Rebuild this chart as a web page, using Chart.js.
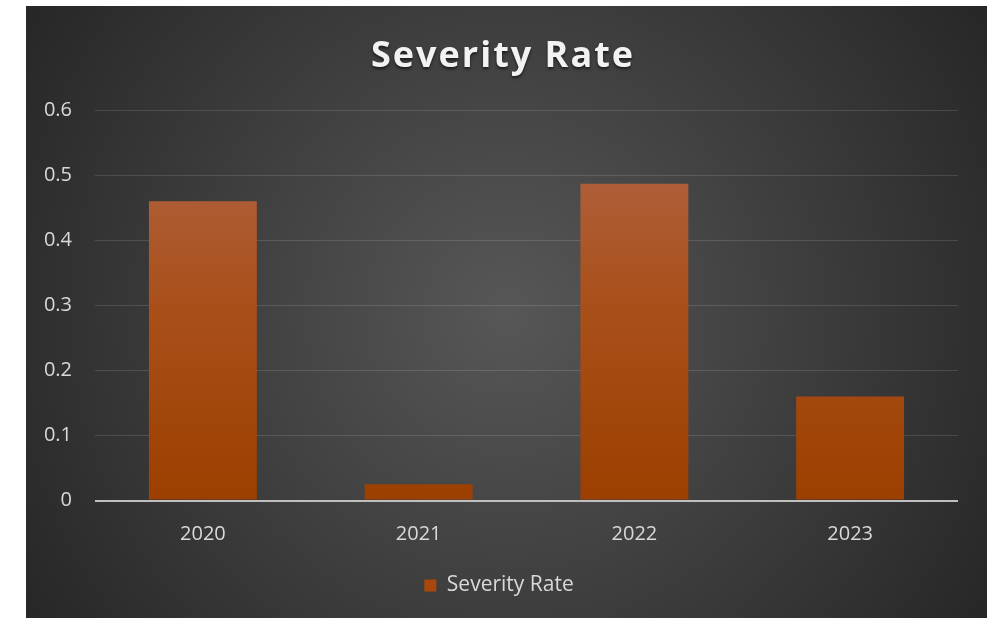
<!DOCTYPE html>
<html>
<head>
<meta charset="utf-8">
<script src="https://cdn.jsdelivr.net/npm/chart.js@4"></script>
<style>
  body { margin: 0; background: #fff; }
  #wrap { position: absolute; left: 26px; top: 6px; width: 961px; height: 612px; }
</style>
</head>
<body>
<div id="wrap"><canvas id="severity"></canvas></div>
<script>
const years = ["2020", "2021", "2022", "2023"];
const severityRate = [0.46, 0.025, 0.487, 0.16];
const yTicks = [0, 0.1, 0.2, 0.3, 0.4, 0.5, 0.6];

const font = "'Open Sans', sans-serif";

// dark radial backdrop like the office chart style
const backdrop = {
  id: "backdrop",
  beforeDraw(chart) {
    const { ctx, width, height } = chart;
    const g = ctx.createRadialGradient(width / 2, height / 2, 0, width / 2, height / 2, width * 0.6);
    g.addColorStop(0, "#575757");
    g.addColorStop(1, "#262626");
    ctx.save();
    ctx.fillStyle = g;
    ctx.fillRect(0, 0, width, height);
    ctx.restore();
  },
};

// spaced out title with a soft shadow
const titleStyle = {
  id: "titleStyle",
  afterInit(chart) {
    const tb = chart.titleBlock;
    if (!tb) return;
    const orig = tb.draw.bind(tb);
    tb.draw = (...args) => {
      const ctx = chart.ctx;
      ctx.save();
      ctx.letterSpacing = "2px";
      ctx.shadowColor = "rgba(0,0,0,0.6)";
      ctx.shadowBlur = 3;
      ctx.shadowOffsetY = 2;
      ctx.translate(4, 0);
      orig(...args);
      ctx.restore();
    };
  },
};

function barFill(context) {
  const { ctx, chartArea } = context.chart;
  if (!chartArea) return "#a5480c";
  const g = ctx.createLinearGradient(0, chartArea.top, 0, chartArea.bottom);
  g.addColorStop(0, "#b2664a");
  g.addColorStop(0.5, "#a9501a");
  g.addColorStop(1, "#9c3f00");
  return g;
}

new Chart(document.getElementById("severity"), {
  type: "bar",
  data: {
    labels: years,
    datasets: [
      {
        label: "Severity Rate",
        data: severityRate,
        backgroundColor: barFill,
        barPercentage: 0.5,
        categoryPercentage: 1,
      },
    ],
  },
  options: {
    responsive: true,
    maintainAspectRatio: false,
    animation: false,
    layout: { padding: { left: 14, right: 29, top: 0, bottom: 12 } },
    plugins: {
      title: {
        display: true,
        text: "Severity Rate",
        color: "#f2f2f2",
        font: { family: font, size: 36, weight: "bold" },
        padding: { top: 29, bottom: 32 },
      },
      legend: {
        position: "bottom",
        labels: {
          color: "#d9d9d9",
          font: { family: font, size: 21 },
          boxWidth: 12,
          boxHeight: 12,
          padding: 14.5,
          generateLabels: (chart) => [
            {
              text: "Severity Rate",
              fillStyle: "#a8480c",
              strokeStyle: "#a8480c",
              lineWidth: 0,
              fontColor: "#d9d9d9",
              datasetIndex: 0,
            },
          ],
        },
      },
      tooltip: { enabled: false },
    },
    scales: {
      x: {
        grid: { display: false },
        border: { display: false },
        ticks: { color: "#d9d9d9", font: { family: font, size: 20 }, padding: 14 },
      },
      y: {
        min: 0,
        max: 0.6,
        afterBuildTicks: (scale) => {
          scale.ticks = yTicks.map((v) => ({ value: v }));
        },
        afterFit: (scale) => {
          scale.width = 55;
        },
        border: { display: false },
        grid: {
          drawTicks: false,
          lineWidth: (c) => (c.index === 0 ? 2 : 1),
          color: (c) => (c.index === 0 ? "#bfbfbf" : "rgba(255,255,255,0.13)"),
        },
        ticks: {
          color: "#d9d9d9",
          font: { family: font, size: 20 },
          padding: 23,
          callback: (v) => (v === 0 ? "0" : v.toFixed(1)),
        },
      },
    },
  },
  plugins: [backdrop, titleStyle],
});
</script>
</body>
</html>
